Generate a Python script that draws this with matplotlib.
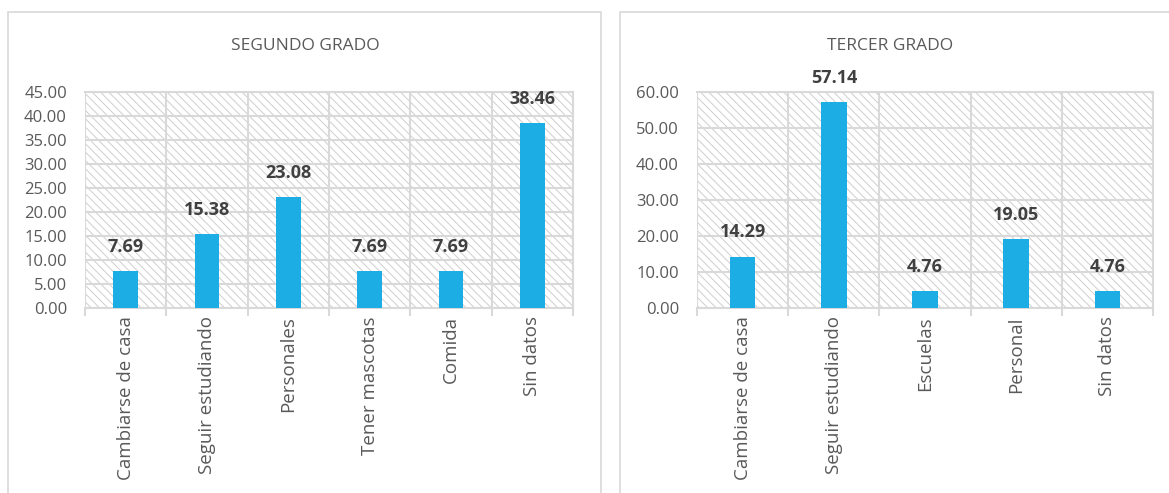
import matplotlib.pyplot as plt
from matplotlib.patches import Rectangle
import numpy as np

# data
seg_cats = ["Cambiarse de casa", "Seguir estudiando", "Personales",
            "Tener mascotas", "Comida", "Sin datos"]
seg_vals = [7.69, 15.38, 23.08, 7.69, 7.69, 38.46]

ter_cats = ["Cambiarse de casa", "Seguir estudiando", "Escuelas",
            "Personal", "Sin datos"]
ter_vals = [14.29, 57.14, 4.76, 19.05, 4.76]

plt.rcParams['font.family'] = ['Open Sans', 'DejaVu Sans']
plt.rcParams['hatch.linewidth'] = 0.7
plt.rcParams['hatch.color'] = '#cfcfcf'

W, H = 1169, 493
fig = plt.figure(figsize=(W / 100, H / 100), dpi=100)

BAR = '#1CADE4'
GRID = '#d9d9d9'
TXT = '#595959'


def px(x0, y0, x1, y1):
    # pixel box (top-left origin) -> figure fraction rect
    return [x0 / W, 1 - y1 / H, (x1 - x0) / W, (y1 - y0) / H]


def panel(x0, y0, x1, y1):
    r = Rectangle((x0 / W, 1 - y1 / H), (x1 - x0) / W, (y1 - y0) / H,
                  transform=fig.transFigure, fill=False,
                  edgecolor='#d9d9d9', linewidth=1.2, zorder=0)
    fig.patches.append(r)


def draw(rect, cats, vals, ymax, step, title, title_x, bw):
    ax = fig.add_axes(rect)
    n = len(cats)
    x = np.arange(n)
    ax.set_xlim(-0.5, n - 0.5)
    ax.set_ylim(0, ymax)
    ax.add_patch(Rectangle((0, 0), 1, 1, transform=ax.transAxes,
                           facecolor='white', edgecolor='#cfcfcf',
                           hatch='\\\\\\\\', linewidth=0, zorder=0))
    ax.bar(x, vals, width=bw, color=BAR, zorder=3)
    for xi, v in zip(x, vals):
        ax.annotate(f"{v:.2f}", (xi, v), xytext=(0, 11),
                    textcoords='offset points', ha='center', va='bottom',
                    fontsize=13, fontweight='bold', color='#404040',
                    annotation_clip=False)
    ax.set_yticks(np.arange(0, ymax + 0.01, step))
    ax.set_yticklabels([f"{t:.2f}" for t in np.arange(0, ymax + 0.01, step)])
    ax.set_xticks(x)
    ax.set_xticklabels(cats, rotation=90)
    ax.set_xticks(np.arange(-0.5, n), minor=True)
    ax.tick_params(axis='x', which='major', length=0, pad=6,
                   labelsize=13.5, labelcolor=TXT)
    ax.tick_params(axis='x', which='minor', length=6, width=1.5, color=GRID)
    ax.tick_params(axis='y', length=0, labelsize=12, labelcolor=TXT, pad=13)
    ax.grid(axis='y', which='major', color=GRID, linewidth=1.5, zorder=1)
    ax.grid(axis='x', which='minor', color=GRID, linewidth=1.5, zorder=1)
    ax.set_axisbelow(True)
    for s in ax.spines.values():
        s.set_color(GRID)
        s.set_linewidth(1.5)
    ax.spines['left'].set_visible(False)
    fig.text(title_x / W, 1 - 46 / H, title, ha='center', va='center',
             fontsize=12.5, color=TXT)
    return ax


panel(8, 12, 601, 500)
panel(620, 12, 1175, 500)

draw(px(85, 92, 573, 308), seg_cats, seg_vals, 45, 5,
     "SEGUNDO GRADO", 305, 0.3)
draw(px(697, 92, 1153, 308), ter_cats, ter_vals, 60, 10,
     "TERCER GRADO", 890, 0.28)

fig.savefig("out.png", dpi=100)
